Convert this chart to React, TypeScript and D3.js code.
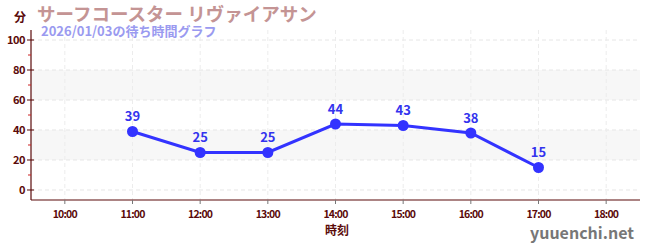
import React from "react";
import * as d3 from "d3";

const times = ["11:00", "12:00", "13:00", "14:00", "15:00", "16:00", "17:00"];
const waits = [39, 25, 25, 44, 43, 38, 15];
const xTickLabels = ["10:00", "11:00", "12:00", "13:00", "14:00", "15:00", "16:00", "17:00", "18:00"];
const yTicks = [0, 20, 40, 60, 80, 100];
const yMinorTicks = [10, 30, 50, 70, 90];
const bands = [[20, 40], [60, 80]];

const toH = (s: string) => {
  const [h, m] = s.split(":").map(Number);
  return h + m / 60;
};

export default function App() {
  const W = 650, H = 250;
  const x = d3.scaleLinear().domain([9.5, 18.5]).range([31, 640]);
  const y = d3.scaleLinear().domain([-6.667, 106.667]).range([200, 30]);
  const axisColor = "#5a0a0a";
  const font = "'Noto Sans CJK JP', 'Noto Sans', sans-serif";
  const line = d3.line<number>().x((_, i) => x(toH(times[i]))).y((d) => y(d));

  return (
    <svg width={W} height={H} style={{ position: "absolute", left: 0, top: 0 }} fontFamily={font}>
      <rect x={0} y={0} width={W} height={H} fill="#fff" />
      {bands.map(([a, b], i) => (
        <rect key={i} x={31} y={y(b)} width={640 - 31} height={y(a) - y(b)} fill="#f7f7f7" />
      ))}
      {yTicks.map((t) => (
        <line key={t} x1={31} x2={640} y1={y(t)} y2={y(t)} stroke="#e6e6e6" strokeDasharray="4,3" />
      ))}
      {xTickLabels.map((t) => (
        <line key={t} x1={x(toH(t))} x2={x(toH(t))} y1={30} y2={200} stroke="#ececec" strokeDasharray="4,3" />
      ))}
      {/* axes */}
      <line x1={31} x2={31} y1={30} y2={200} stroke={axisColor} strokeWidth={1.2} />
      <line x1={31} x2={640} y1={200} y2={200} stroke={axisColor} strokeWidth={1.2} />
      {yTicks.map((t) => (
        <g key={t}>
          <line x1={27} x2={34} y1={y(t)} y2={y(t)} stroke={axisColor} />
          <text x={25} y={y(t)} dy="0.35em" textAnchor="end" fontSize={11} fontWeight="bold" fill={axisColor} letterSpacing={-0.5}>{t}</text>
        </g>
      ))}
      {yMinorTicks.map((t) => (
        <line key={t} x1={28} x2={31} y1={y(t)} y2={y(t)} stroke="#cc2222" />
      ))}
      {xTickLabels.map((t) => (
        <g key={t}>
          <line x1={x(toH(t))} x2={x(toH(t))} y1={200} y2={204} stroke="#777" />
          <text x={x(toH(t))} y={214} dy="0.35em" textAnchor="middle" fontSize={10.5} fontWeight="bold" fill={axisColor} letterSpacing={-0.8}>{t}</text>
        </g>
      ))}
      <text x={337} y={231} dy="0.35em" textAnchor="middle" fontSize={12} fontWeight="bold" fill={axisColor}>時刻</text>
      <text x={20} y={18} dy="0.35em" textAnchor="middle" fontSize={12} fontWeight="bold" fill={axisColor}>分</text>
      <text x={37} y={21} fontSize={18.5} fontWeight="bold" fill="#c49494">サーフコースター リヴァイアサン</text>
      <text x={41} y={36} fontSize={13} fontWeight="bold" fill="#9a9af0">2026/01/03の待ち時間グラフ</text>
      <text x={634} y={239} textAnchor="end" fontSize={16} fontWeight="bold" fill="#777">yuuenchi.net</text>
      {/* data */}
      <path d={line(waits) || ""} fill="none" stroke="#3333ff" strokeWidth={3} />
      {waits.map((v, i) => (
        <g key={i}>
          <circle cx={x(toH(times[i]))} cy={y(v)} r={5.5} fill="#3333ff" />
          <text x={x(toH(times[i]))} y={y(v) - 10} textAnchor="middle" fontSize={13} fontWeight="bold" fill="#3333ee">{v}</text>
        </g>
      ))}
    </svg>
  );
}
